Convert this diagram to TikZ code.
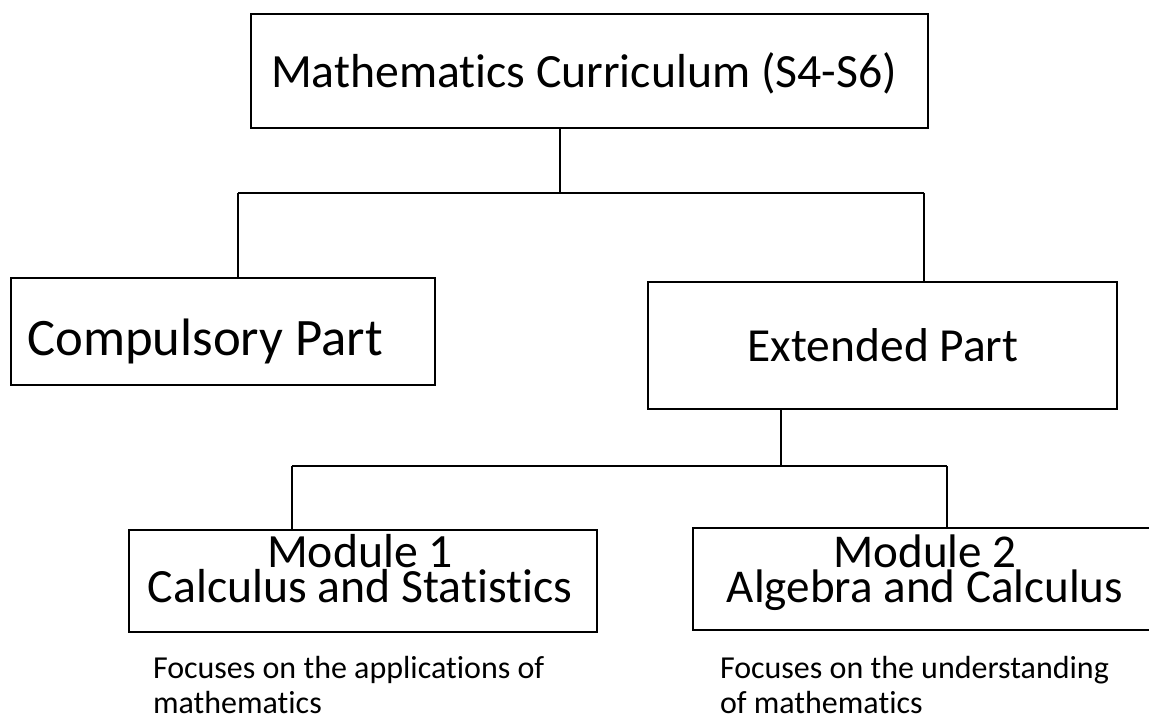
\documentclass[tikz,border=0pt]{standalone}
\usepackage{fontspec}
\setmainfont{Carlito}[Ligatures=NoCommon]
\tikzset{every picture/.style={line width=1.5pt}}
\tikzset{
  partbox/.style={draw, inner sep=0pt, anchor=north west},
  boxtext/.style={anchor=base, inner sep=0pt, align=center},
  notetext/.style={anchor=base west, inner sep=0pt, align=left, font=\fontsize{24}{26.25}\selectfont},
}

\begin{document}
\begin{tikzpicture}[x=0.75pt,y=0.75pt,yscale=-1,xscale=1]
\useasboundingbox (0,0) rectangle (1149,727);

%Shape: Rectangle [curriculum]
\node (curr) [partbox, minimum width=507.75pt, minimum height=85.5pt] at (250,13) {};
%Shape: Rectangle [compulsory]
\node (comp) [partbox, minimum width=318pt, minimum height=80.25pt] at (10,277) {};
%Shape: Rectangle [extended]
\node (ext) [partbox, minimum width=351.75pt, minimum height=95.25pt] at (647,281) {};
%Shape: Rectangle [module 1]
\node (modone) [partbox, minimum width=351pt, minimum height=76.5pt] at (128,529) {};
%Shape: Rectangle [module 2]
\node (modtwo) [partbox, minimum width=349.5pt, minimum height=76.5pt] at (692,527) {};

%Straight Lines [curriculum to parts]
\coordinate (jtop) at (560,193);
\coordinate (jtopl) at (238,193);
\coordinate (jtopr) at (924,193);
\draw (curr.south -| jtop) -- (jtop) ;
\draw (jtopl) -- (jtopr) ;
\draw (jtopl) -- (jtopl |- comp.north) ;
\draw (jtopr) -- (jtopr |- ext.north) ;

%Straight Lines [extended to modules]
\coordinate (jmod) at (781,466);
\coordinate (jmodl) at (292,466);
\coordinate (jmodr) at (947,466);
\draw (ext.south -| jmod) -- (jmod) ;
\draw (jmodl) -- (jmodr) ;
\draw (jmodl) -- (jmodl |- modone.north) ;
\draw (jmodr) -- (jmodr |- modtwo.north) ;

% Text Node
\node (currtext) [boxtext, font=\fontsize{35.8}{40}\selectfont] at (584,88) {Mathematics Curriculum (S4-S6)};
% Text Node
\node (comptext) [boxtext, font=\fontsize{39.5}{44}\selectfont] at (205,355) {Compulsory Part};
% Text Node
\node (exttext) [boxtext, font=\fontsize{35.6}{40}\selectfont] at (883,361) {Extended Part};
% Text Node
\node (modonetext) [boxtext, font=\fontsize{35.8}{26.25}\selectfont] at (360,602) {Module 1\\Calculus and Statistics};
% Text Node
\node (modtwotext) [boxtext, font=\fontsize{35.3}{26.25}\selectfont] at (925,602) {Module 2\\Algebra and Calculus};
% Text Node
\node (noteone) [notetext] at (152,713) {Focuses on the applications of\\mathematics};
% Text Node
\node (notetwo) [notetext] at (719,713) {Focuses on the understanding\\of mathematics};

\end{tikzpicture}
\end{document}
